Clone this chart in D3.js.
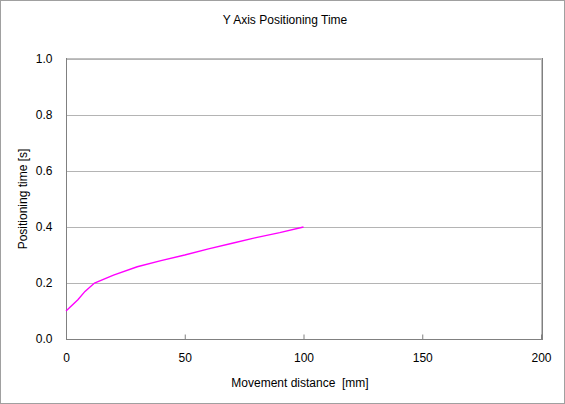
<!DOCTYPE html>
<html><head><meta charset="utf-8">
<script src="https://cdn.jsdelivr.net/npm/d3@7"></script>
<style>body{margin:0;background:#fff}svg{display:block}text{font-family:"Liberation Sans",Arial,sans-serif;fill:#000}</style>
</head><body>
<script>
const distance = [0, 5, 8, 12, 20, 30, 40, 50, 60, 70, 80, 90, 100];
const time = [0.1, 0.14, 0.17, 0.2, 0.228, 0.258, 0.28, 0.30, 0.322, 0.342, 0.362, 0.38, 0.40];
const xTicks = [0, 50, 100, 150, 200];
const yTicks = [0.0, 0.2, 0.4, 0.6, 0.8, 1.0];

const W = 565, H = 404;
const svg = d3.select("body").append("svg").attr("width", W).attr("height", H);
svg.append("rect").attr("x", 0.5).attr("y", 0.5).attr("width", W - 1).attr("height", H - 1)
  .attr("fill", "#fff").attr("stroke", "#a0a0a0");

const L = 66, R = 541, T = 59, B = 339;
const x = d3.scaleLinear().domain([0, 200]).range([L, R]);
const y = d3.scaleLinear().domain([0, 1]).range([B, T]);

// gridlines
svg.append("g").selectAll("line").data(yTicks.filter(d => d > 0)).join("line")
  .attr("x1", L).attr("x2", R).attr("y1", d => Math.round(y(d)) + 0.5).attr("y2", d => Math.round(y(d)) + 0.5)
  .attr("stroke", "#b4b4b4");
// top border
svg.append("line").attr("x1", L).attr("x2", R + 1).attr("y1", T - 0.5).attr("y2", T - 0.5).attr("stroke", "#c0c0c0");
// right border
svg.append("line").attr("x1", R + 0.5).attr("x2", R + 0.5).attr("y1", T - 1).attr("y2", B + 1).attr("stroke", "#c0c0c0");
svg.append("line").attr("x1", R + 1.5).attr("x2", R + 1.5).attr("y1", T - 1).attr("y2", B + 1).attr("stroke", "#808080");

// axes
const xAxis = d3.axisBottom(x).tickValues(xTicks).tickSize(-5).tickPadding(14).tickFormat(d3.format("d"));
const gx = svg.append("g").attr("transform", `translate(0,${B + 0.5})`).call(xAxis);
gx.select(".domain").attr("stroke", "#808080").attr("d", `M${L},0H${R + 1}`);
gx.selectAll(".tick line").attr("stroke", "#808080");
gx.selectAll("text").attr("font-size", 12).attr("font-family", '"Liberation Sans",Arial,sans-serif');

const yAxis = d3.axisLeft(y).tickValues(yTicks).tickSize(0).tickPadding(14).tickFormat(d3.format(".1f"));
const gy = svg.append("g").attr("transform", `translate(${L + 0.5},0)`).call(yAxis);
gy.select(".domain").attr("stroke", "#808080").attr("d", `M0,${T - 1}V${B + 1}`);
gy.selectAll("text").attr("font-size", 12).attr("font-family", '"Liberation Sans",Arial,sans-serif');

// line
const line = d3.line().x((d, i) => x(distance[i])).y(d => y(d));
svg.append("path").datum(time).attr("d", line).attr("fill", "none").attr("stroke", "#ff00ff").attr("stroke-width", 1.4);

// titles
svg.append("text").attr("x", 285).attr("y", 24).attr("text-anchor", "middle").attr("font-size", 12).text("Y Axis Positioning Time");
svg.append("text").attr("x", 300).attr("y", 387).attr("text-anchor", "middle").attr("font-size", 12)
  .style("white-space", "pre").text("Movement distance  [mm]");
svg.append("text").attr("transform", "translate(27,199) rotate(-90)").attr("text-anchor", "middle").attr("font-size", 12).text("Positioning time [s]");
</script>
</body></html>
